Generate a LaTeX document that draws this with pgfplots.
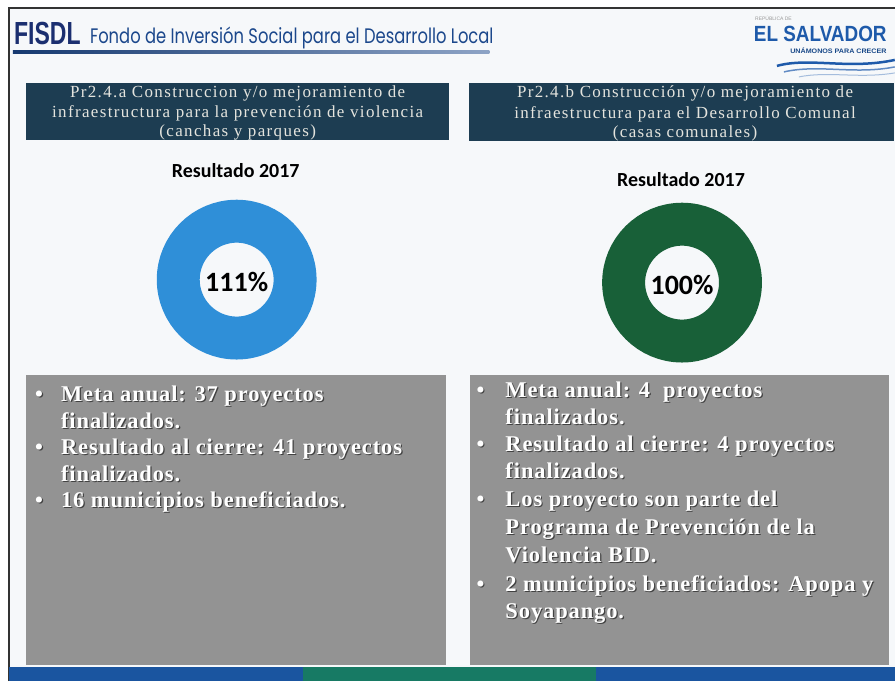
\documentclass[border=0pt]{standalone}
\usepackage{pgfplots}
\pgfplotsset{compat=1.18}
\usepackage{pgfplotstable}
\usepackage{fontspec}
\setmainfont{Liberation Serif}
\newfontfamily\tracked[LetterSpace=8]{Liberation Serif}
\newfontfamily\bullserif[LetterSpace=4]{Liberation Serif}
\newfontfamily\carlito{Carlito}
\newfontfamily\popp{Poppins}
\newfontfamily\lsans{Liberation Sans}
\definecolor{boxnavy}{RGB}{29,61,82}
\definecolor{boxtext}{RGB}{228,228,222}
\definecolor{donutblue}{RGB}{47,143,216}
\definecolor{donutgreen}{RGB}{24,96,56}
\definecolor{panelgray}{RGB}{147,147,147}
\definecolor{fisdl}{RGB}{27,47,112}
\definecolor{fondo}{RGB}{28,72,140}
\definecolor{salv}{RGB}{30,90,170}
\definecolor{bandblue}{RGB}{26,85,160}
\definecolor{bandgreen}{RGB}{23,122,100}
\definecolor{slidebg}{RGB}{246,248,250}

\pgfplotstableread{
x y value
237 280 111
}\donutA
\pgfplotstableread{
x y value
683 283 100
}\donutB

\tikzset{bullfont/.style={font=\bullserif\bfseries\fontsize{22.5}{22.5}\selectfont}}
\newcommand{\bl}[3]{%
  \node[bullfont, anchor=base west, text=black, opacity=0.55, xshift=1.2pt, yshift=-1.2pt, inner sep=0pt] at (axis cs:#1,#2) {#3};
  \node[bullfont, anchor=base west, text=white, inner sep=0pt] at (axis cs:#1,#2) {#3};}

\begin{document}
\begin{tikzpicture}
\begin{axis}[x=1pt, y=1pt, xmin=0, xmax=896, ymin=0, ymax=682, y dir=reverse,
  hide axis, clip=false, anchor=origin, at={(0,0)},
  /pgf/number format/assume math mode=true]
% background
\fill[white] (axis cs:0,0) rectangle (axis cs:896,682);
\fill[slidebg] (axis cs:9,9) rectangle (axis cs:896,682);
\draw[black!80, line width=2pt] (axis cs:9,682) -- (axis cs:9,8) -- (axis cs:896,8);
% header
\node[anchor=base west, inner sep=0pt, text=fisdl, xscale=0.72] at (axis cs:14,45) {\lsans\bfseries\fontsize{32}{32}\selectfont FISDL};
\node[anchor=base west, inner sep=0pt, text=fondo, xscale=0.78] at (axis cs:90,44) {\popp\fontsize{21}{21}\selectfont Fondo de Inversión Social para el Desarrollo Local};
\shade[left color=fondo!80!black, right color=fondo!50!white] (axis cs:13,51) rectangle (axis cs:490,54);
% logo
\node[anchor=base west, inner sep=0pt, text=black!40] at (axis cs:756,21) {\lsans\fontsize{5}{5}\selectfont REPÚBLICA DE};
\node[anchor=base east, inner sep=0pt, text=salv, xscale=0.86] at (axis cs:888,42) {\lsans\bfseries\fontsize{22}{22}\selectfont EL SALVADOR};
\node[anchor=base east, inner sep=0pt, text=salv!80!black, xscale=1.1] at (axis cs:888,54) {\lsans\bfseries\fontsize{6.5}{6.5}\selectfont UNÁMONOS PARA CRECER};
\draw[salv, line width=2.5pt] (axis cs:778,66) .. controls (axis cs:810,57) and (axis cs:850,70) .. (axis cs:896,60);
\draw[salv!70, line width=1.5pt] (axis cs:785,72) .. controls (axis cs:820,64) and (axis cs:855,75) .. (axis cs:896,67);
\draw[salv!40, line width=1pt] (axis cs:800,77) .. controls (axis cs:830,71) and (axis cs:860,79) .. (axis cs:896,73);
% title boxes
\fill[boxnavy] (axis cs:26,83) rectangle (axis cs:450,140);
\fill[boxnavy] (axis cs:470,83) rectangle (axis cs:895,141);
\node[anchor=base, inner sep=0pt, text=boxtext] at (axis cs:238,98) {\tracked\fontsize{17}{17}\selectfont Pr2.4.a Construccion y/o mejoramiento de};
\node[anchor=base, inner sep=0pt, text=boxtext] at (axis cs:238,118) {\tracked\fontsize{17}{17}\selectfont infraestructura para la prevención de violencia};
\node[anchor=base, inner sep=0pt, text=boxtext] at (axis cs:238,137) {\tracked\fontsize{17}{17}\selectfont (canchas y parques)};
\node[anchor=base, inner sep=0pt, text=boxtext] at (axis cs:686,98) {\tracked\fontsize{17}{17}\selectfont Pr2.4.b Construcción y/o mejoramiento de};
\node[anchor=base, inner sep=0pt, text=boxtext] at (axis cs:686,119) {\tracked\fontsize{17}{17}\selectfont infraestructura para el Desarrollo Comunal};
\node[anchor=base, inner sep=0pt, text=boxtext] at (axis cs:686,138) {\tracked\fontsize{17}{17}\selectfont (casas comunales)};
% result headings
\node[anchor=base, inner sep=0pt] at (axis cs:236,178) {\carlito\bfseries\fontsize{20}{20}\selectfont Resultado 2017};
\node[anchor=base, inner sep=0pt] at (axis cs:682,187) {\carlito\bfseries\fontsize{20}{20}\selectfont Resultado 2017};
% donuts
\addplot[only marks, mark=o, mark size=58.5pt, mark options={line width=43pt, draw=donutblue},
  point meta=\thisrow{value}, nodes near coords={\pgfmathprintnumber{\pgfplotspointmeta}\%},
  nodes near coords align={center},
  every node near coord/.append style={font=\carlito\bfseries\fontsize{28}{28}\selectfont, text=black, yshift=-2pt}]
  table[x=x, y=y] {\donutA};
\addplot[only marks, mark=o, mark size=58.5pt, mark options={line width=43pt, draw=donutgreen},
  point meta=\thisrow{value}, nodes near coords={\pgfmathprintnumber{\pgfplotspointmeta}\%},
  nodes near coords align={center},
  every node near coord/.append style={font=\carlito\bfseries\fontsize{28}{28}\selectfont, text=black, yshift=-2pt}]
  table[x=x, y=y] {\donutB};
% panels
\fill[panelgray] (axis cs:26,376) rectangle (axis cs:447,666);
\fill[panelgray] (axis cs:471,376) rectangle (axis cs:890,666);
% bottom band
\fill[bandblue] (axis cs:9,668) rectangle (axis cs:303,682);
\fill[bandgreen] (axis cs:303,668) rectangle (axis cs:597,682);
\fill[bandblue] (axis cs:597,668) rectangle (axis cs:896,682);
% left bullets
\bl{35}{402}{•}\bl{61}{402}{Meta anual: 37 proyectos}
\bl{61}{429}{finalizados.}
\bl{35}{455}{•}\bl{61}{455}{Resultado al cierre: 41 proyectos}
\bl{61}{482}{finalizados.}
\bl{35}{508}{•}\bl{61}{508}{16 municipios beneficiados.}
% right bullets
\bl{477}{398}{•}\bl{506}{398}{Meta anual: 4 \ proyectos}
\bl{506}{425}{finalizados.}
\bl{477}{452}{•}\bl{506}{452}{Resultado al cierre: 4 proyectos}
\bl{506}{479}{finalizados.}
\bl{477}{507}{•}\bl{506}{507}{Los proyecto son parte del}
\bl{506}{535}{Programa de Prevención de la}
\bl{506}{563}{Violencia BID.}
\bl{477}{592}{•}\bl{506}{592}{2 municipios beneficiados: Apopa y}
\bl{506}{619}{Soyapango.}
\end{axis}
\end{tikzpicture}
\end{document}
